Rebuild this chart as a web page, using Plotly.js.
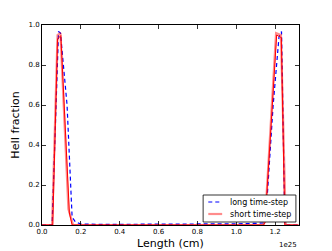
<!DOCTYPE html>
<html>
<head>
<meta charset="utf-8">
<script src="https://cdn.plot.ly/plotly-3.0.1.min.js"></script>
<style>html,body{margin:0;padding:0;background:#fff;}#plot{width:332px;height:251px;}</style>
</head>
<body>
<div id="plot"></div>
<script>
// x values in units of 1e25 cm
const longX  = [0, 0.05, 0.052, 0.085, 0.095, 0.129, 0.138, 0.155, 0.172, 0.2, 0.3, 0.5, 0.7, 0.9, 1.0, 1.1, 1.14, 1.15, 1.16, 1.19, 1.22, 1.233, 1.25, 1.26, 1.32];
const longY  = [0, 0, 0, 0.967, 0.96, 0.6, 0.4, 0.04, 0.015, 0.005, 0.003, 0.003, 0.003, 0.004, 0.006, 0.008, 0.01, 0.02, 0.15, 0.6, 0.94, 0.967, 0.0, 0.0, 0];
const shortX = [0, 0.05, 0.0555, 0.08, 0.097, 0.141, 0.155, 0.2, 0.5, 1.0, 1.14, 1.148, 1.208, 1.232, 1.25, 1.32];
const shortY = [0, 0, 0, 0.93, 0.947, 0.06, 0, 0, 0, 0, 0, 0.01, 0.95, 0.937, 0, 0];
const paleX  = [0, 0.05, 0.052, 0.08, 0.095, 0.136, 0.16, 0.2, 0.5, 1.0, 1.14, 1.15, 1.205, 1.23, 1.255, 1.32];
const paleY  = [0, 0, 0, 0.95, 0.96, 0.08, 0, 0, 0, 0, 0, 0.05, 0.96, 0.95, 0, 0];
const xTicks = [0.0, 0.2, 0.4, 0.6, 0.8, 1.0, 1.2];
const yTicks = [0.0, 0.2, 0.4, 0.6, 0.8, 1.0];
const legendNames = ['long time-step', 'short time-step'];

const longLine  = {color: '#0000ff', width: 1.2, dash: '4px,3px'};
const paleLine  = {color: 'rgba(255,0,0,0.45)', width: 2.2};

const traces = [
  {x: longX, y: longY, name: legendNames[0], mode: 'lines', line: longLine},
  {x: paleX, y: paleY, name: legendNames[1], mode: 'lines', line: paleLine},
  {x: shortX, y: shortY, name: '', mode: 'lines', line: {color: '#ff0000', width: 1}}
];

const axCommon = {
  showgrid: false, zeroline: false, showline: true, mirror: 'ticks',
  linecolor: '#000', linewidth: 1, ticks: 'inside', ticklen: 4, tickwidth: 0.8,
  tickcolor: '#000', tickfont: {family: 'DejaVu Sans', size: 7, color: '#000'}
};

// custom compact legend (matplotlib style) in paper coordinates
const lg = {x0: 0.627, x1: 0.988, y0: 0.015, y1: 0.15, rows: [0.115, 0.055], lx0: 0.647, lx1: 0.701, tx: 0.722};
const shapes = [
  {type: 'rect', xref: 'paper', yref: 'paper', x0: lg.x0, x1: lg.x1, y0: lg.y0, y1: lg.y1,
   fillcolor: '#fff', line: {color: '#000', width: 0.8}, layer: 'above'},
  {type: 'line', xref: 'paper', yref: 'paper', x0: lg.lx0, x1: lg.lx1, y0: lg.rows[0], y1: lg.rows[0],
   line: {color: longLine.color, width: longLine.width, dash: longLine.dash}, layer: 'above'},
  {type: 'line', xref: 'paper', yref: 'paper', x0: lg.lx0, x1: lg.lx1, y0: lg.rows[1], y1: lg.rows[1],
   line: {color: paleLine.color, width: paleLine.width}, layer: 'above'}
];

const annotations = [
  {text: '1e25', xref: 'paper', yref: 'paper', x: 1.0, y: -0.07, xanchor: 'right', yanchor: 'top',
   showarrow: false, font: {family: 'DejaVu Sans', size: 7, color: '#000'}}
].concat(legendNames.map((n, i) => ({
  text: n, xref: 'paper', yref: 'paper', x: lg.tx, y: lg.rows[i], xanchor: 'left', yanchor: 'middle',
  showarrow: false, font: {family: 'DejaVu Sans', size: 8, color: '#000'}
})));

const layout = {
  width: 332, height: 251,
  margin: {l: 41.5, r: 33, t: 25, b: 26},
  paper_bgcolor: '#fff', plot_bgcolor: '#fff',
  font: {family: 'DejaVu Sans', color: '#000'},
  showlegend: false,
  xaxis: Object.assign({}, axCommon, {
    range: [0, 1.323], tickvals: xTicks, ticktext: xTicks.map(v => v.toFixed(1)),
    title: {text: 'Length (cm)', font: {family: 'DejaVu Sans', size: 11}, standoff: 3}
  }),
  yaxis: Object.assign({}, axCommon, {
    range: [0, 1.0], tickvals: yTicks, ticktext: yTicks.map(v => v.toFixed(1)),
    title: {text: 'HeII fraction', font: {family: 'DejaVu Sans', size: 11}, standoff: 6}
  }),
  shapes: shapes,
  annotations: annotations
};

Plotly.newPlot('plot', traces, layout, {staticPlot: true, displayModeBar: false});
</script>
</body>
</html>
